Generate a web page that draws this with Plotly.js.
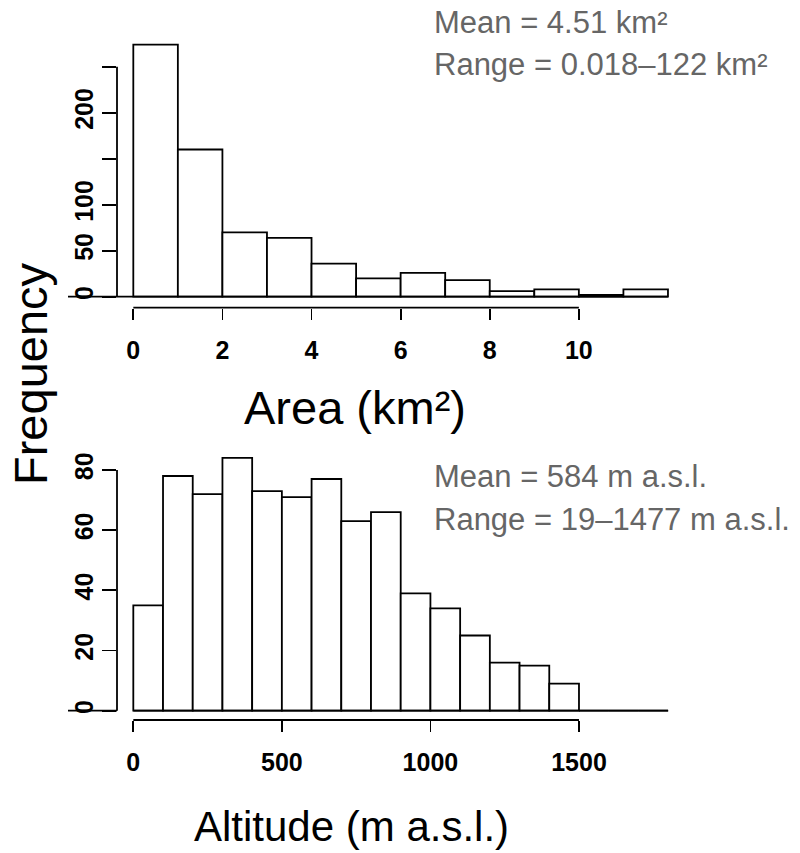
<!DOCTYPE html>
<html>
<head>
<meta charset="utf-8">
<script src="https://cdn.plot.ly/plotly-3.0.1.min.js"></script>
<style>html,body{margin:0;padding:0;background:#fff;}#chart{width:800px;height:853px;}</style>
</head>
<body>
<div id="chart"></div>
<script>
// ---- data ----
var areaBinEdges = [0,1,2,3,4,5,6,7,8,9,10,11,12];
var areaCounts   = [274,160,70,64,36,20,26,18,6,8,2,8];
var areaXTicks   = [0,2,4,6,8,10];
var areaYTicks   = [0,50,100,150,200,250];
var areaYLabels  = ['0','50','100','','200',''];

var altBinEdges = [0,100,200,300,400,500,600,700,800,900,1000,1100,1200,1300,1400,1500,1600,1700,1800];
var altCounts   = [35,78,72,84,73,71,77,63,66,39,34,25,16,15,9,0,0,0];
var altXTicks   = [0,500,1000,1500];
var altYTicks   = [0,20,40,60,80];
var altYLabels  = ['0','20','40','60','80'];

var areaStats = ['Mean = 4.51 km\u00b2', 'Range = 0.018\u2013122 km\u00b2'];
var altStats  = ['Mean = 584 m a.s.l.', 'Range = 19\u20131477 m a.s.l.'];
var titles = {freq: 'Frequency', area: 'Area (km\u00b2)', alt: 'Altitude (m a.s.l.)'};

// ---- helpers ----
function mids(e){var m=[];for(var i=0;i<e.length-1;i++)m.push((e[i]+e[i+1])/2);return m;}
function widths(e){var w=[];for(var i=0;i<e.length-1;i++)w.push(e[i+1]-e[i]);return w;}

var W = 800, H = 853;
function px(x){return x/W;}
function py(y){return 1 - y/H;}

var FONT = 'Liberation Sans, Arial, Helvetica, sans-serif';
var LW = 1.8;

var traces = [
  {type:'bar', x: mids(areaBinEdges), y: areaCounts, width: widths(areaBinEdges),
   marker:{color:'#ffffff', line:{color:'#000', width:LW}}, xaxis:'x', yaxis:'y', hoverinfo:'x+y'},
  {type:'bar', x: mids(altBinEdges), y: altCounts, width: widths(altBinEdges),
   marker:{color:'#ffffff', line:{color:'#000', width:LW}}, xaxis:'x2', yaxis:'y2', hoverinfo:'x+y'}
];

var tickFont = {family: FONT, size: 25, color:'#000', weight: 'bold'};

function xAx(domain, range, tickvals, anchor){
  return {domain: domain, range: range, anchor: anchor, tickvals: tickvals,
    ticktext: tickvals.map(String), ticks:'outside', ticklen: 11, tickwidth: LW, tickcolor:'#000',
    showline:false, showgrid:false, zeroline:false, tickfont: tickFont, ticklabelstandoff: 9, fixedrange:true};
}
function yAx(domain, range, tickvals, ticktext, anchor){
  return {domain: domain, range: range, anchor: anchor, tickvals: tickvals, ticktext: ticktext,
    ticks:'outside', ticklen: 14, tickwidth: LW, tickcolor:'#000', tickangle: -90,
    showline:false, showgrid:false, zeroline:false, tickfont: tickFont, ticklabelstandoff: -1, fixedrange:true};
}

var layout = {
  width: W, height: H,
  margin: {l:0, r:0, t:0, b:0},
  paper_bgcolor:'#fff', plot_bgcolor:'#fff',
  showlegend:false, bargap:0,
  font: {family: FONT, color:'#000'},
  xaxis:  xAx([px(117), px(680)], [-0.366, 12.27], areaXTicks, 'y'),
  yaxis:  yAx([py(307.7), py(30)], [-11.96, 289.9], areaYTicks, areaYLabels, 'x'),
  xaxis2: xAx([px(117), px(680)], [-54.9, 1840], altXTicks, 'y2'),
  yaxis2: yAx([py(720), py(440)], [-3.09, 89.97], altYTicks, altYLabels, 'x2'),
  shapes: [
    // top panel axis lines and baseline
    {type:'line', xref:'x domain', yref:'y', x0:0, x1:0, y0:areaYTicks[0], y1:areaYTicks[areaYTicks.length-1], line:{color:'#000', width:LW}},
    {type:'line', xref:'x', yref:'y domain', x0:areaXTicks[0], x1:areaXTicks[areaXTicks.length-1], y0:0, y1:0, line:{color:'#000', width:LW}},
    {type:'line', xref:'paper', yref:'y', x0:px(68), x1:px(117), y0:0, y1:0, line:{color:'#000', width:LW}},
    {type:'line', xref:'x', yref:'y', x0:-0.366, x1:areaBinEdges[areaBinEdges.length-1], y0:0, y1:0, line:{color:'#000', width:LW}},
    // bottom panel
    {type:'line', xref:'x2 domain', yref:'y2', x0:0, x1:0, y0:altYTicks[0], y1:altYTicks[altYTicks.length-1], line:{color:'#000', width:LW}},
    {type:'line', xref:'x2', yref:'y2 domain', x0:altXTicks[0], x1:altXTicks[altXTicks.length-1], y0:0, y1:0, line:{color:'#000', width:LW}},
    {type:'line', xref:'paper', yref:'y2', x0:px(68), x1:px(117), y0:0, y1:0, line:{color:'#000', width:LW}},
    {type:'line', xref:'x2', yref:'y2', x0:altBinEdges[0], x1:altBinEdges[altBinEdges.length-1], y0:0, y1:0, line:{color:'#000', width:LW}}
  ],
  annotations: [
    {text: titles.freq, xref:'paper', yref:'paper', x:px(30), y:py(374), xanchor:'center', yanchor:'middle', textangle:-90, showarrow:false, font:{family:FONT, size:47, color:'#000'}},
    {text: titles.area, xref:'paper', yref:'paper', x:px(355), y:py(407), xanchor:'center', yanchor:'middle', showarrow:false, font:{family:FONT, size:47, color:'#000'}},
    {text: titles.alt, xref:'paper', yref:'paper', x:px(351), y:py(826), xanchor:'center', yanchor:'middle', showarrow:false, font:{family:FONT, size:42, color:'#000'}},
    {text: areaStats[0], xref:'paper', yref:'paper', x:px(432), y:py(22), xanchor:'left', yanchor:'middle', showarrow:false, font:{family:FONT, size:31, color:'#666'}},
    {text: areaStats[1], xref:'paper', yref:'paper', x:px(432), y:py(64), xanchor:'left', yanchor:'middle', showarrow:false, font:{family:FONT, size:31, color:'#666'}},
    {text: altStats[0], xref:'paper', yref:'paper', x:px(432), y:py(477), xanchor:'left', yanchor:'middle', showarrow:false, font:{family:FONT, size:31, color:'#666'}},
    {text: altStats[1], xref:'paper', yref:'paper', x:px(432), y:py(519), xanchor:'left', yanchor:'middle', showarrow:false, font:{family:FONT, size:31, color:'#666'}}
  ]
};

Plotly.newPlot('chart', traces, layout, {displayModeBar:false, staticPlot:true});
</script>
</body>
</html>
